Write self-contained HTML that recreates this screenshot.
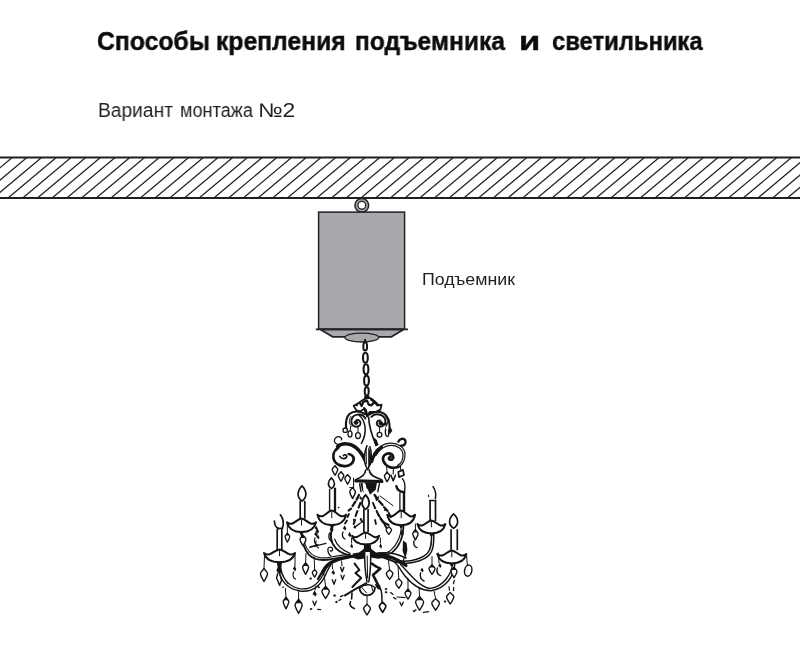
<!DOCTYPE html>
<html lang="ru">
<head>
<meta charset="utf-8">
<title>Способы крепления подъемника и светильника</title>
<style>
html,body{margin:0;padding:0;background:#fff;}
body{width:800px;height:666px;position:relative;overflow:hidden;font-family:"Liberation Sans",sans-serif;color:#1a1a1a;}
.t{position:absolute;white-space:nowrap;transform-origin:0 0;line-height:30px;height:30px;will-change:transform;}
.h{font-size:26px;font-weight:bold;color:#0b0b0b;top:26.2px;-webkit-text-stroke:0.45px #0b0b0b;}
.s{font-size:19.6px;color:#1f1f1f;top:95.3px;}
#lab{left:422.1px;top:265px;font-size:17.1px;color:#1f1f1f;transform:scaleX(1.04);}
svg{position:absolute;left:0;top:0;}
</style>
</head>
<body>
<svg width="800" height="666" viewBox="0 0 800 666">
<defs>
<clipPath id="ceil"><rect x="0" y="158" width="800" height="40"/></clipPath>
</defs>
<!-- ceiling -->
<g clip-path="url(#ceil)" stroke="#262626" stroke-width="1.3" fill="none">
<path d="M-16.62 157L-66.70 199M-1.91 157L-51.99 199M12.79 157L-37.29 199M27.49 157L-22.59 199M42.20 157L-7.88 199M56.90 157L6.82 199M71.61 157L21.53 199M86.31 157L36.23 199M101.01 157L50.93 199M115.72 157L65.64 199M130.42 157L80.34 199M145.13 157L95.05 199M159.83 157L109.75 199M174.53 157L124.45 199M189.24 157L139.16 199M203.94 157L153.86 199M218.65 157L168.57 199M233.35 157L183.27 199M248.05 157L197.97 199M262.76 157L212.68 199M277.46 157L227.38 199M292.17 157L242.09 199M306.87 157L256.79 199M321.57 157L271.49 199M336.28 157L286.20 199M350.98 157L300.90 199M365.69 157L315.61 199M380.39 157L330.31 199M395.09 157L345.01 199M409.80 157L359.72 199M424.50 157L374.42 199M439.21 157L389.13 199M453.91 157L403.83 199M468.61 157L418.53 199M483.32 157L433.24 199M498.02 157L447.94 199M512.73 157L462.65 199M527.43 157L477.35 199M542.13 157L492.05 199M556.84 157L506.76 199M571.54 157L521.46 199M586.25 157L536.17 199M600.95 157L550.87 199M615.65 157L565.57 199M630.36 157L580.28 199M645.06 157L594.98 199M659.77 157L609.69 199M674.47 157L624.39 199M689.17 157L639.09 199M703.88 157L653.80 199M718.58 157L668.50 199M733.29 157L683.21 199M747.99 157L697.91 199M762.69 157L712.61 199M777.40 157L727.32 199M792.10 157L742.02 199M806.81 157L756.73 199M821.51 157L771.43 199M836.21 157L786.13 199M850.92 157L800.84 199"/>
</g>
<line x1="0" y1="157.6" x2="800" y2="157.6" stroke="#1f1f1f" stroke-width="2"/>
<line x1="0" y1="197.9" x2="800" y2="197.9" stroke="#1f1f1f" stroke-width="2"/>
<!-- eyelet -->
<circle cx="361.8" cy="205.3" r="6.9" fill="#a3a5a8" stroke="#222" stroke-width="1.5"/>
<circle cx="361.8" cy="205.3" r="3.9" fill="#fff" stroke="#222" stroke-width="1.3"/>
<!-- hoist -->
<rect x="318.6" y="212.1" width="86" height="117" fill="#a7a9ac" stroke="#222" stroke-width="1.5"/>
<path d="M320.5 329.5 L332.5 336.8 L391.5 336.8 L403.5 329.5 Z" fill="#a7a9ac" stroke="#222" stroke-width="1.7" stroke-linejoin="round"/>
<line x1="315.8" y1="329.3" x2="408" y2="329.3" stroke="#222" stroke-width="1.8"/>
<ellipse cx="361.8" cy="337.6" rx="17" ry="4.4" fill="#a7a9ac" stroke="#222" stroke-width="1.3"/>
<!-- chain -->
<g stroke-linejoin="round" stroke-linecap="round"><path d="M365.2 339.6L364.6 343" fill="none" stroke="#141414" stroke-width="1.8" />
<ellipse cx="365.2" cy="346.4" rx="1.9" ry="4.2" fill="#fff" stroke="#141414" stroke-width="2.0"/>
<ellipse cx="365.4" cy="357.8" rx="2.4" ry="5.0" fill="#fff" stroke="#141414" stroke-width="2.1"/>
<ellipse cx="366.0" cy="369.2" rx="2.4" ry="5.0" fill="#fff" stroke="#141414" stroke-width="2.1"/>
<ellipse cx="366.5" cy="380.6" rx="2.4" ry="5.0" fill="#fff" stroke="#141414" stroke-width="2.1"/>
<ellipse cx="366.7" cy="391.2" rx="2.0" ry="4.2" fill="#fff" stroke="#141414" stroke-width="2.0"/>
<path d="M364.4 395.5L369.3 395.5L369.8 398.6L364 398.6Z" fill="#141414"/></g>
<!-- chandelier -->
<g stroke-linejoin="round" stroke-linecap="round"><path d="M353.6 405.8L358.6 403L363.6 399.6L367 398.2L370.4 398.2L374.6 401.4L379 405.4L381.6 404.6L380.4 409.6L376.6 411.6L370 412L367 416.4L364.2 408.6L360.4 411.4L356.4 410.4Z" fill="#fff" stroke="#141414" stroke-width="1.8" />
<path d="M369.6 397.6L372 398L376 401.6L379.4 405.8L377 406.4L373.4 402.6L370 400Z" fill="#141414"/>
<path d="M359.8 403L361.6 406L363.4 401.8L367 400.6L368.8 404.8L371.2 405.4L374.2 402.4" fill="none" stroke="#141414" stroke-width="2.2" />
<path d="M364 407.8L365.8 409.6L367 413.8" fill="none" stroke="#141414" stroke-width="1.8" />
<path d="M354.6 405.6L358.6 403.4L357.4 406.6Z" fill="#141414"/>
<path d="M367 416.4L369.6 412" fill="none" stroke="#141414" stroke-width="1.6" />
<path d="M365 414C360 410.8 353.4 410.6 349.4 414C346.4 417 345.6 422 346 427.6" fill="none" stroke="#141414" stroke-width="2.1" />
<path d="M351 416.4C348.6 419.6 348.8 424 351.6 426.4" fill="none" stroke="#141414" stroke-width="1.0" />
<path d="M365.4 418.4C362 412.6 352.4 413.4 351.4 420.6C351 426.2 356.4 428.4 359.8 425.4C361.8 422.8 359.8 419.4 356.6 420" fill="none" stroke="#141414" stroke-width="1.9" />
<circle cx="356.0" cy="422.6" r="2.1" fill="#141414" stroke="#141414" stroke-width="0.5"/>
<path d="M359 415C366 421 367.4 433 361.4 443.4" fill="none" stroke="#141414" stroke-width="1.5" />
<circle cx="345.2" cy="430.2" r="2.2" fill="#fff" stroke="#141414" stroke-width="1.3"/>
<path d="M350.6 426.5L350.2 430.5" fill="none" stroke="#141414" stroke-width="1.0" />
<ellipse cx="350" cy="434" rx="2.0" ry="3.1" fill="#fff" stroke="#141414" stroke-width="1.3"/>
<path d="M358 427L358 432.4" fill="none" stroke="#141414" stroke-width="1.0" />
<ellipse cx="358" cy="435.6" rx="2.4" ry="3.0" fill="#fff" stroke="#141414" stroke-width="1.3"/>
<path d="M369.6 414.6C373 411.4 379.6 410.8 384 413.6C388.6 416.6 389.8 423 389.6 428.6" fill="none" stroke="#141414" stroke-width="2.1" />
<path d="M385.6 416.4C388 419.6 388 424 385.6 427" fill="none" stroke="#141414" stroke-width="1.1" />
<path d="M371.4 416.8C375 412.8 383 413.8 385 419C386.8 424.6 381 428.8 377.6 425.4C375.6 423 377.4 419.8 380.4 420.6" fill="none" stroke="#141414" stroke-width="1.9" />
<path d="M380 423C383 424.8 385.4 424.8 386.8 423.6" fill="none" stroke="#141414" stroke-width="2.0" />
<circle cx="380.8" cy="423.2" r="2.0" fill="#141414" stroke="#141414" stroke-width="0.5"/>
<path d="M379.6 427.4L379.6 432" fill="none" stroke="#141414" stroke-width="1.0" />
<circle cx="379.5" cy="434.8" r="2.4" fill="#fff" stroke="#141414" stroke-width="1.3"/>
<path d="M385.6 429C385 433 385.6 436.4 387.2 436.6C388.8 436.4 389 433.6 388.6 431.6" fill="none" stroke="#141414" stroke-width="1.4" />
<path d="M390 426.6L392.4 430.4L390 434L387.8 430.4Z" fill="#141414"/>
<path d="M368.6 417C369 425 372 436 376 445" fill="none" stroke="#141414" stroke-width="1.6" />
<path d="M373.8 437.6L376.8 440L378.6 445L375.4 446.4L374.2 442Z" fill="#141414"/>
<path d="M341 437.8C338.6 435.6 335 437 334.4 440.2C334 443 336.6 444.8 340 444.8" fill="none" stroke="#141414" stroke-width="1.3" />
<path d="M341 437.8C342 438.4 342 439.6 341.2 440" fill="none" stroke="#141414" stroke-width="1.1" />
<path d="M337.6 446.6C342 443 350 442.6 356 447.6C360.6 451.6 363.6 456.6 365.6 461.4" fill="none" stroke="#141414" stroke-width="3.5" />
<path d="M345 446.6C351 447 357 451.6 361 458.4" fill="none" stroke="#fff" stroke-width="1.0" />
<path d="M338.4 447.6C332.6 451.6 331.6 459 336.6 463.4C341.6 467.6 349.6 467 352.8 462C355 458.4 353 454.6 348.8 454" fill="none" stroke="#141414" stroke-width="2.7" />
<path d="M336 452C334.4 456 335.4 460.6 338.6 463" fill="none" stroke="#fff" stroke-width="1.0" />
<path d="M339.8 456.4C341.6 459.4 346 459.4 346.8 456.6C347 454.6 344.6 454.2 343.4 455.6" fill="none" stroke="#141414" stroke-width="1.7" />
<path d="M335 465.75C336.12 467.175 337.8 468.41 337.8 469.36C337.8 471.26 335.84 473.825 335 475.25C334.16 473.825 332.2 471.26 332.2 469.36C332.2 468.41 333.88 467.175 335 465.75Z" fill="#fff" stroke="#141414" stroke-width="1.4" />
<path d="M341 471.75C342.12 473.175 343.8 474.41 343.8 475.36C343.8 477.26 341.84 479.825 341 481.25C340.16 479.825 338.2 477.26 338.2 475.36C338.2 474.41 339.88 473.175 341 471.75Z" fill="#fff" stroke="#141414" stroke-width="1.4" />
<path d="M347.6 474.65C348.72 476.075 350.40000000000003 477.31 350.40000000000003 478.26C350.40000000000003 480.15999999999997 348.44 482.72499999999997 347.6 484.15C346.76000000000005 482.72499999999997 344.8 480.15999999999997 344.8 478.26C344.8 477.31 346.48 476.075 347.6 474.65Z" fill="#fff" stroke="#141414" stroke-width="1.4" />
<path d="M353.6 478L353.6 487.4" fill="none" stroke="#141414" stroke-width="1.1" />
<path d="M352.6 487.5C353.72 489.15 355.40000000000003 490.58 355.40000000000003 491.68C355.40000000000003 493.88 353.44 496.85 352.6 498.5C351.76000000000005 496.85 349.8 493.88 349.8 491.68C349.8 490.58 351.48 489.15 352.6 487.5Z" fill="#fff" stroke="#141414" stroke-width="1.5" />
<path d="M398.4 441.6C399.4 438.6 403.6 437.6 405.2 440.2C406.6 443 404.6 445.6 401.2 445.8" fill="none" stroke="#141414" stroke-width="2.4" />
<path d="M371.6 461.6C373 456.4 376 451 381.4 447.2" fill="none" stroke="#141414" stroke-width="3.2" />
<path d="M373.8 453.6C378 447 384 443.4 390.6 443.2C398 443 404.6 447 405 454C405.2 460 402.6 464.6 398.6 467" fill="none" stroke="#141414" stroke-width="1.2" />
<path d="M376 455.4C379.6 449.6 385 445.6 390.6 445.4C397 445.2 402.6 448.8 403 454.6C403.2 459.6 401 463.6 397.6 465.6" fill="none" stroke="#141414" stroke-width="1.2" />
<path d="M398.6 466.8C392 469.4 385.6 466.6 383.4 461C381.8 456.6 385 453.2 389.2 453.4C392.8 453.6 394.2 457 392.6 459C391.2 460.4 389.2 459.8 388.8 458.4" fill="none" stroke="#141414" stroke-width="2.6" />
<circle cx="390.2" cy="456.8" r="1.5" fill="#141414" stroke="#141414" stroke-width="0.4"/>
<path d="M386.6 466.8L387.1 472.25" fill="none" stroke="#141414" stroke-width="1.0" />
<path d="M387.1 472.25C388.18 473.675 389.8 474.91 389.8 475.86C389.8 477.76 387.91 480.325 387.1 481.75C386.29 480.325 384.40000000000003 477.76 384.40000000000003 475.86C384.40000000000003 474.91 386.02000000000004 473.675 387.1 472.25Z" fill="#fff" stroke="#141414" stroke-width="1.4" />
<path d="M393.4 468L393.2 474" fill="none" stroke="#141414" stroke-width="1.1" />
<path d="M390.9 475.2L393.2 480.8L395.5 475.2" fill="none" stroke="#141414" stroke-width="1.6" />
<path d="M400.4 466L400.8 470" fill="none" stroke="#141414" stroke-width="1.1" />
<path d="M401 469.4L404.4 473.4L401 477.6L397.8 473.4Z" fill="#fff" stroke="#141414" stroke-width="1.7" transform="rotate(28 401 473.5)"/>
<path d="M367 445.6C364 452 363.6 462 366.2 466.6L367.6 470L369 466.6C372.4 462 371.8 452 369.8 446.6" fill="#fff" stroke="#141414" stroke-width="1.5" />
<path d="M368.2 447C371.6 452 372 461 369.2 466.4L368.2 468.6Z" fill="#141414"/>
<path d="M366.2 449L366.4 464" fill="none" stroke="#141414" stroke-width="1.0" />
<path d="M366 470L366 475M369.2 470L369.2 475" fill="none" stroke="#141414" stroke-width="1.3" />
<path d="M365.6 470.4C365 476 360 478 356 479.4L355.6 481.4L382 482L381.6 479.6C377 478 369.6 476 369.4 470.4" fill="#fff" stroke="#141414" stroke-width="1.6" />
<path d="M355.8 480.8L382 481.6" fill="none" stroke="#141414" stroke-width="3.0" />
<path d="M364.2 482.4L377 482.4L375.6 490L373 492L370 494.8L367.8 489.6L366.4 488L365.8 484.6Z" fill="#141414"/>
<path d="M360.4 483L362.6 483L363.6 493L362 490Z" fill="#141414"/>
<path d="M359.6 484L361 491.6M379.4 483.6L377.8 491.6" fill="none" stroke="#141414" stroke-width="1.4" />
<path d="M274.4 521C274.6 525 276 527.6 278.4 528.4" fill="none" stroke="#141414" stroke-width="1.7" />
<path d="M280.4 514.8C283.4 519 284 524 282.4 528" fill="none" stroke="#141414" stroke-width="1.7" />
<path d="M277.6 528.6L282.6 528.2" fill="none" stroke="#141414" stroke-width="1.6" />
<path d="M277.2 529.5L277.2 549.5M281.8 529.5L281.8 549.5" fill="none" stroke="#141414" stroke-width="1.7" />
<path d="M302.0 485.9C307.06 490.84 307.29 497.68 302 501.1C296.71 497.68 296.94 490.84 302.0 485.9Z" fill="#fff" stroke="#141414" stroke-width="1.7" />
<path d="M300.2 501.5L300.2 518M304.8 501.5L304.8 518" fill="none" stroke="#141414" stroke-width="1.7" />
<path d="M331.4 477.8C335.35999999999996 481.31 335.53999999999996 486.17 331.4 488.59999999999997C327.26 486.17 327.44 481.31 331.4 477.8Z" fill="#fff" stroke="#141414" stroke-width="1.6" />
<path d="M329.6 489.5L329.6 511" fill="none" stroke="#141414" stroke-width="1.4" />
<path d="M335 488.6L335 511" fill="none" stroke="#141414" stroke-width="2.3" />
<path d="M365.6 494.8C370.22 499.48 370.43 505.96 365.6 509.2C360.77000000000004 505.96 360.98 499.48 365.6 494.8Z" fill="#fff" stroke="#141414" stroke-width="1.8" />
<path d="M363.9 509.5L363.9 531.5M368.1 509.5L368.1 531.5" fill="none" stroke="#141414" stroke-width="1.7" />
<path d="M399.9 493L399.9 510.5" fill="none" stroke="#141414" stroke-width="1.3" />
<path d="M404 492L404 510.5" fill="none" stroke="#141414" stroke-width="2.4" />
<path d="M402.4 478.8C404.6 481 405.4 486 404.6 491.4" fill="none" stroke="#141414" stroke-width="1.4" />
<path d="M396.4 486.2C397 489.6 400 491.8 404.2 492.2" fill="none" stroke="#141414" stroke-width="2.4" />
<path d="M433 486.6C435.4 490 436.4 494 435.4 498.4" fill="none" stroke="#141414" stroke-width="1.5" />
<path d="M428.4 495L428.8 497" fill="none" stroke="#141414" stroke-width="1.0" />
<path d="M430.1 500.5L430.1 520.5M435.5 500.5L435.5 520.5" fill="none" stroke="#141414" stroke-width="1.7" />
<path d="M430 500.5L435.6 500.5" fill="none" stroke="#141414" stroke-width="1.6" />
<path d="M453.6 513.8C458.88 518.48 459.12 524.96 453.6 528.2C448.08000000000004 524.96 448.32000000000005 518.48 453.6 513.8Z" fill="#fff" stroke="#141414" stroke-width="1.7" />
<path d="M451.09999999999997 529.8L451.09999999999997 549.5M457.3 529.8L457.3 549.5" fill="none" stroke="#141414" stroke-width="1.7" />
<path d="M278.4 564C278 576 284 588.6 300 591C312 592.4 321.6 585.4 327 571.4L331.6 563.4" fill="none" stroke="#141414" stroke-width="1.4" />
<path d="M280.6 564C280.6 574 286 586.4 300 588.8C311 590 319.6 583.4 325 570.4L329.4 562.6" fill="none" stroke="#141414" stroke-width="1.3" />
<path d="M301.4 533C302 543 304.6 550 309 554.8C314 559.8 322 560.8 331 559.2C338 558 345 556.6 352 556.2" fill="none" stroke="#141414" stroke-width="1.9" />
<path d="M304 540C305 546 308 551 312 554.4C317 558 324 558.6 331 557C338 555.6 344 554.8 350 554.4" fill="none" stroke="#141414" stroke-width="1.1" />
<path d="M333 525C330 533 330.4 539 332.6 543.6C336 550 343 554.4 352 556" fill="none" stroke="#141414" stroke-width="2.0" />
<path d="M334.6 539C336.6 545 342 550 350 553.4" fill="none" stroke="#141414" stroke-width="1.2" />
<path d="M328 548.6C327.4 551.4 329 555 331 556M328 548.6C329 546.4 332.4 546.6 332.6 549.4C332.6 551 331 551.6 330.4 550.6" fill="none" stroke="#141414" stroke-width="1.3" />
<path d="M309.6 547.4L326 543.4" fill="none" stroke="#141414" stroke-width="1.2" />
<path d="M322.4 572.4C325 566.4 329 562.8 336 560.4" fill="none" stroke="#141414" stroke-width="3.4" />
<path d="M336 560.4C342 558.4 350 556.6 359 555.6" fill="none" stroke="#141414" stroke-width="2.6" />
<path d="M318 579C320 575 322 572.4 324 570" fill="none" stroke="#141414" stroke-width="2.2" />
<path d="M403.6 525C403.4 536 400 546 392 552.6C388 555 384 556 380 556.2" fill="none" stroke="#141414" stroke-width="1.6" />
<path d="M401.6 525C401.2 535 398 544 390.6 550.4C387 553 383 554 379 554.2" fill="none" stroke="#141414" stroke-width="1.2" />
<path d="M433.8 534C433.8 544 433.4 550 429.6 554.6C425 560 414 563.4 404 563.4C396 563 388 559.6 380 556.4" fill="none" stroke="#141414" stroke-width="1.5" />
<path d="M431.6 534C431.6 544 431 549 427.6 553C423 558 413 561.2 404 561.2C397 560.8 390 558 382 555" fill="none" stroke="#141414" stroke-width="1.4" />
<path d="M454.8 564C454 576 446 588.4 431 590.8C421 590.8 411.6 584 405 576C402 572 400 569 398.4 566.4C394 560 386 557 378 556.6" fill="none" stroke="#141414" stroke-width="1.4" />
<path d="M452.6 564C451.4 574 444 586 431 588.4C423 588.4 415.6 581 408.6 573C405.6 570 403 567 400.6 564.6" fill="none" stroke="#141414" stroke-width="1.4" />
<path d="M374 555C384 554.4 396 557.6 406 565.6" fill="none" stroke="#141414" stroke-width="3.2" />
<path d="M378 553C388 552 398 554 406 558" fill="none" stroke="#141414" stroke-width="1.6" />
<path d="M264.0 552.9839999999999C270.2 557.848 274.23 549.656 279.5 549.4C284.77 549.656 288.8 557.848 295.0 552.9839999999999C293.45 558.616 287.87 562.1999999999999 279.5 562.1999999999999C271.13 562.1999999999999 265.55 558.616 264.0 552.9839999999999Z" fill="#fff" stroke="#141414" stroke-width="2.0" />
<path d="M279.5 550.68L279.5 555.8" fill="none" stroke="#141414" stroke-width="1.0" />
<path d="M277.1 561.56L281.9 561.56L280.5 564.9999999999999L278.5 564.9999999999999Z" fill="#141414"/>
<path d="M287.0 522.208C292.8 527.376 296.57 518.672 301.5 518.4C306.43 518.672 310.2 527.376 316.0 522.208C314.55 528.192 309.33 532.0 301.5 532.0C293.67 532.0 288.45 528.192 287.0 522.208Z" fill="#fff" stroke="#141414" stroke-width="2.0" />
<path d="M301.5 519.76L301.5 525.1999999999999" fill="none" stroke="#141414" stroke-width="1.0" />
<path d="M299.1 531.3199999999999L303.9 531.3199999999999L302.5 534.8L300.5 534.8Z" fill="#141414"/>
<path d="M317.40000000000003 514.6320000000001C323.16 520.104 326.904 510.88800000000003 331.8 510.6C336.696 510.88800000000003 340.44 520.104 346.2 514.6320000000001C344.76 520.9680000000001 339.576 525.0 331.8 525.0C324.024 525.0 318.84000000000003 520.9680000000001 317.40000000000003 514.6320000000001Z" fill="#fff" stroke="#141414" stroke-width="2.0" />
<path d="M331.8 512.0400000000001L331.8 517.8000000000001" fill="none" stroke="#141414" stroke-width="1.0" />
<path d="M329.40000000000003 524.28L334.2 524.28L332.8 527.8L330.8 527.8Z" fill="#141414"/>
<path d="M352.1 535.76C357.5 540.3199999999999 361.01000000000005 532.64 365.6 532.4C370.19 532.64 373.70000000000005 540.3199999999999 379.1 535.76C377.75 541.04 372.89000000000004 544.4 365.6 544.4C358.31 544.4 353.45000000000005 541.04 352.1 535.76Z" fill="#fff" stroke="#141414" stroke-width="2.0" />
<path d="M365.6 533.6L365.6 538.4" fill="none" stroke="#141414" stroke-width="1.0" />
<path d="M363.20000000000005 543.8L368.0 543.8L366.6 547.1999999999999L364.6 547.1999999999999Z" fill="#141414"/>
<path d="M387.3 514.688C392.86 520.236 396.474 510.892 401.2 510.6C405.926 510.892 409.53999999999996 520.236 415.09999999999997 514.688C413.71 521.112 408.706 525.2 401.2 525.2C393.69399999999996 525.2 388.69 521.112 387.3 514.688Z" fill="#fff" stroke="#141414" stroke-width="2.0" />
<path d="M401.2 512.0600000000001L401.2 517.9" fill="none" stroke="#141414" stroke-width="1.0" />
<path d="M398.8 524.47L403.59999999999997 524.47L402.2 528.0L400.2 528.0Z" fill="#141414"/>
<path d="M417.4 524.04C423.0 528.98 426.64 520.66 431.4 520.4C436.15999999999997 520.66 439.79999999999995 528.98 445.4 524.04C444.0 529.76 438.96 533.4 431.4 533.4C423.84 533.4 418.79999999999995 529.76 417.4 524.04Z" fill="#fff" stroke="#141414" stroke-width="2.0" />
<path d="M431.4 521.6999999999999L431.4 526.9" fill="none" stroke="#141414" stroke-width="1.0" />
<path d="M429.0 532.75L433.79999999999995 532.75L432.4 536.1999999999999L430.4 536.1999999999999Z" fill="#141414"/>
<path d="M437.3 554.04C443.1 558.98 446.87 550.66 451.8 550.4C456.73 550.66 460.5 558.98 466.3 554.04C464.85 559.76 459.63 563.4 451.8 563.4C443.97 563.4 438.75 559.76 437.3 554.04Z" fill="#fff" stroke="#141414" stroke-width="2.0" />
<path d="M451.8 551.6999999999999L451.8 556.9" fill="none" stroke="#141414" stroke-width="1.0" />
<path d="M449.40000000000003 562.75L454.2 562.75L452.8 566.1999999999999L450.8 566.1999999999999Z" fill="#141414"/>
<path d="M352.6 553.4L359 552.6L364.4 548.4L364.6 558.6L358 559.4L353 557.8Z" fill="#141414"/>
<path d="M370.6 548.4L376 552.6L386 553.2L388.6 557.2L378 558.8L370.8 557.6Z" fill="#141414"/>
<path d="M364 545L370.8 545L371.4 552L363.6 552Z" fill="#141414"/>
<path d="M364.8 548C364.2 560 365.2 572 367 582M370.4 548C371.2 560 370.4 572 368.8 582" fill="#fff" stroke="#141414" stroke-width="1.5" />
<path d="M367.2 556L367.6 578" fill="none" stroke="#141414" stroke-width="1.0" />
<path d="M354.6 563.6L359.4 570L355.4 573L361.2 578L356.2 583L352.4 587" fill="none" stroke="#141414" stroke-width="2.0" />
<path d="M372 563.6C375 566.4 378 567.4 380.4 568.6L373 575L375.8 580.4L378.6 586" fill="none" stroke="#141414" stroke-width="2.6" />
<path d="M359.4 587.6A7.8 7.8 0 0 0 375 587.6" fill="#fff" stroke="#141414" stroke-width="1.8" />
<path d="M359.6 588C364 584 371 583.6 374.8 587.4" fill="none" stroke="#141414" stroke-width="1.4" />
<path d="M361.4 587L366.6 593M371.6 586.4L372.6 590.6" fill="none" stroke="#141414" stroke-width="1.0" />
<path d="M345 595.4C352 591 359 587 366.4 583.2" fill="none" stroke="#141414" stroke-width="2.0" />
<path d="M374.6 584L380 585L381.4 590.4L377 588.6Z" fill="#141414"/>
<path d="M379.4 587C381 589 381.8 592 381.8 595L382 601.6" fill="none" stroke="#141414" stroke-width="1.5" />
<path d="M367 595.4L367 604.2" fill="none" stroke="#141414" stroke-width="1.0" />
<path d="M367 604.2C368.36 605.82 370.4 607.2239999999999 370.4 608.304C370.4 610.4639999999999 368.02 613.38 367 615.0C365.98 613.38 363.6 610.4639999999999 363.6 608.304C363.6 607.2239999999999 365.64 605.82 367 604.2Z" fill="#fff" stroke="#141414" stroke-width="1.4" />
<path d="M382.6 602.1C383.92 603.63 385.90000000000003 604.956 385.90000000000003 605.976C385.90000000000003 608.016 383.59000000000003 610.7700000000001 382.6 612.3000000000001C381.61 610.7700000000001 379.3 608.016 379.3 605.976C379.3 604.956 381.28000000000003 603.63 382.6 602.1Z" fill="#fff" stroke="#141414" stroke-width="1.7" />
<path d="M352 593L351.6 599M350.6 601.6C349 604 350.6 607.6 354.4 608.6" fill="none" stroke="#141414" stroke-width="1.6" />
<path d="M264.6 553.5L264 568.5" fill="none" stroke="#141414" stroke-width="1.0" />
<path d="M264 568.5C265.4 570.45 267.5 572.1400000000001 267.5 573.44C267.5 576.0400000000001 265.05 579.55 264 581.5C262.95 579.55 260.5 576.0400000000001 260.5 573.44C260.5 572.1400000000001 262.6 570.45 264 568.5Z" fill="#fff" stroke="#141414" stroke-width="1.4" />
<path d="M295 553.6L295 566" fill="none" stroke="#141414" stroke-width="1.0" />
<path d="M294.6 565.5L296.3 569.1L295.11 571.5L293.92 569.7L292.90000000000003 569.1Z" fill="#141414"/>
<path d="M293.6 572C292.4 575 293.4 578 295.4 579" fill="none" stroke="#141414" stroke-width="1.3" />
<path d="M287.2 523L287.4 533.1" fill="none" stroke="#141414" stroke-width="1.0" />
<path d="M287.4 533.1C288.32 534.45 289.7 535.62 289.7 536.52C289.7 538.3199999999999 288.09 540.75 287.4 542.1C286.71 540.75 285.09999999999997 538.3199999999999 285.09999999999997 536.52C285.09999999999997 535.62 286.47999999999996 534.45 287.4 533.1Z" fill="#fff" stroke="#141414" stroke-width="1.3" />
<path d="M287.4 532.3000000000001L289.056 535.53L285.74399999999997 535.53Z" fill="#141414"/>
<path d="M303 535.15C304.2 536.725 306.0 538.09 306.0 539.14C306.0 541.24 303.9 544.0749999999999 303 545.65C302.1 544.0749999999999 300.0 541.24 300.0 539.14C300.0 538.09 301.8 536.725 303 535.15Z" fill="#fff" stroke="#141414" stroke-width="1.4" />
<path d="M303 534.35L305.16 537.985L300.84 537.985Z" fill="#141414"/>
<path d="M316.2 525.5L317.8 528.5L316.68 530.5L315.56 529.0L314.59999999999997 528.5Z" fill="#141414"/>
<path d="M316 531.0L317.8 534.6L316.54 537.0L315.28 535.2L314.2 534.6Z" fill="#141414"/>
<path d="M315 538C313.6 541 315 544.6 317.6 545.4" fill="none" stroke="#141414" stroke-width="1.3" />
<path d="M311 546.6L318 545" fill="none" stroke="#141414" stroke-width="1.3" />
<path d="M306 553.5L305.6 562.85" fill="none" stroke="#141414" stroke-width="1.0" />
<path d="M305.6 562.85C306.8 564.575 308.6 566.07 308.6 567.22C308.6 569.52 306.5 572.625 305.6 574.35C304.70000000000005 572.625 302.6 569.52 302.6 567.22C302.6 566.07 304.40000000000003 564.575 305.6 562.85Z" fill="#fff" stroke="#141414" stroke-width="1.4" />
<path d="M305.6 562.0500000000001L307.76000000000005 565.955L303.44 565.955Z" fill="#141414"/>
<path d="M314.2 557L314.6 569.6999999999999" fill="none" stroke="#141414" stroke-width="1.0" />
<path d="M314.6 569.6999999999999C315.52000000000004 570.81 316.90000000000003 571.7719999999999 316.90000000000003 572.512C316.90000000000003 573.992 315.29 575.99 314.6 577.1C313.91 575.99 312.3 573.992 312.3 572.512C312.3 571.7719999999999 313.68 570.81 314.6 569.6999999999999Z" fill="#fff" stroke="#141414" stroke-width="1.3" />
<path d="M285.4 588.5L286 597.25" fill="none" stroke="#141414" stroke-width="1.0" />
<path d="M286 597.25C287.12 598.975 288.8 600.47 288.8 601.62C288.8 603.92 286.84 607.025 286 608.75C285.16 607.025 283.2 603.92 283.2 601.62C283.2 600.47 284.88 598.975 286 597.25Z" fill="#fff" stroke="#141414" stroke-width="1.4" />
<path d="M286 596.45L288.016 600.355L283.984 600.355Z" fill="#141414"/>
<path d="M298.6 590.5L298.6 599.4" fill="none" stroke="#141414" stroke-width="1.0" />
<path d="M298.6 599.4C300.0 601.5 302.1 603.32 302.1 604.72C302.1 607.52 299.65000000000003 611.3 298.6 613.4C297.55 611.3 295.1 607.52 295.1 604.72C295.1 603.32 297.20000000000005 601.5 298.6 599.4Z" fill="#fff" stroke="#141414" stroke-width="1.4" />
<path d="M298.6 598.6L301.12 603.18L296.08000000000004 603.18Z" fill="#141414"/>
<path d="M316 586L315 590" fill="none" stroke="#141414" stroke-width="1.0" />
<path d="M314.6 590.6L316.8 594.2L315.26000000000005 596.6L313.72 594.8000000000001L312.40000000000003 594.2Z" fill="#141414"/>
<path d="M312.90000000000003 601.1999999999999L314.6 605.6L316.3 601.1999999999999" fill="none" stroke="#141414" stroke-width="1.3" />
<path d="M324 574L325.6 586.4" fill="none" stroke="#141414" stroke-width="1.0" />
<path d="M325.6 586.4C327.08000000000004 588.1999999999999 329.3 589.7599999999999 329.3 590.9599999999999C329.3 593.3599999999999 326.71000000000004 596.6 325.6 598.4C324.49 596.6 321.90000000000003 593.3599999999999 321.90000000000003 590.9599999999999C321.90000000000003 589.7599999999999 324.12 588.1999999999999 325.6 586.4Z" fill="#fff" stroke="#141414" stroke-width="1.4" />
<path d="M325.6 585.6L328.264 589.64L322.93600000000004 589.64Z" fill="#141414"/>
<circle cx="310.6" cy="578.6" r="1.0" fill="#141414" stroke="#141414" stroke-width="0.3"/>
<circle cx="311" cy="609" r="1.0" fill="#141414" stroke="#141414" stroke-width="0.3"/>
<circle cx="318.6" cy="587.2" r="0.9" fill="#141414" stroke="#141414" stroke-width="0.3"/>
<path d="M317.6 609.4L320.6 609.6" fill="none" stroke="#141414" stroke-width="1.2" />
<circle cx="283" cy="587.2" r="0.7" fill="#141414" stroke="#141414" stroke-width="0.3"/>
<path d="M276.8 563L282 563L280.8 568L282 572L280.4 573.4L278 573L276.4 570.6L277.8 567Z" fill="#141414"/>
<path d="M277.6 573.6L276.6 578L279.6 585.4L281.6 580L280.2 575" fill="none" stroke="#141414" stroke-width="1.4" />
<path d="M281.4 573C284 578 286 582 288 584" fill="none" stroke="#141414" stroke-width="1.0" />
<path d="M332 563L332.6 569" fill="none" stroke="#141414" stroke-width="1.0" />
<path d="M333.2 569.6999999999999L335.0 572.9399999999999L333.74 575.1L332.47999999999996 573.48L331.4 572.9399999999999Z" fill="#141414"/>
<path d="M341.6 561L342 566" fill="none" stroke="#141414" stroke-width="1.0" />
<path d="M340.59999999999997 567.4L342.2 571.8000000000001L343.8 567.4" fill="none" stroke="#141414" stroke-width="1.4" />
<path d="M332.3 579.7L334 584.3L335.7 579.7" fill="none" stroke="#141414" stroke-width="1.3" />
<path d="M341.0 575.1999999999999L342.6 579.6L344.20000000000005 575.1999999999999" fill="none" stroke="#141414" stroke-width="1.3" />
<circle cx="334.6" cy="595.6" r="1.1" fill="#141414" stroke="#141414" stroke-width="0.3"/>
<circle cx="336.4" cy="602" r="1.0" fill="#141414" stroke="#141414" stroke-width="0.3"/>
<path d="M340.6 596.6L343 595.4" fill="none" stroke="#141414" stroke-width="1.4" />
<path d="M339 600.4L341 599.4" fill="none" stroke="#141414" stroke-width="1.2" />
<path d="M351.6 538L351.6 543" fill="none" stroke="#141414" stroke-width="1.0" />
<path d="M351.6 543.5L353.1 546.5L352.05 548.5L351.0 547.0L350.1 546.5Z" fill="#141414"/>
<path d="M380.4 538L380.4 543" fill="none" stroke="#141414" stroke-width="1.0" />
<path d="M380.6 543.3L382.1 546.54L381.05 548.7L380.0 547.08L379.1 546.54Z" fill="#141414"/>
<path d="M331.6 526.0L333.6 529.6L332.20000000000005 532.0L330.8 530.2L329.6 529.6Z" fill="#141414"/>
<path d="M329.6 533C328 536 329 540 331.4 541.4" fill="none" stroke="#141414" stroke-width="1.4" />
<path d="M317.4 528.3L319.09999999999997 531.54L317.90999999999997 533.7L316.71999999999997 532.08L315.7 531.54Z" fill="#141414"/>
<path d="M318 534.5L319.5 537.5L318.45 539.5L317.4 538.0L316.5 537.5Z" fill="#141414"/>
<path d="M316 541C315 544 316.4 547 318.6 548" fill="none" stroke="#141414" stroke-width="1.2" />
<path d="M344.6 525.5L346.40000000000003 528.5L345.14000000000004 530.5L343.88 529.0L342.8 528.5Z" fill="#141414"/>
<path d="M343 532C341.6 535 342.6 538 345 539" fill="none" stroke="#141414" stroke-width="1.3" />
<path d="M349.6 531.8000000000001L351.3 535.16L350.11 537.4L348.92 535.72L347.90000000000003 535.16Z" fill="#141414"/>
<path d="M466.4 553.6L467.4 565" fill="none" stroke="#141414" stroke-width="1.0" />
<ellipse cx="468.2" cy="570.6" rx="3.6" ry="5.6" fill="#fff" stroke="#141414" stroke-width="1.5" transform="rotate(12 468.2 570.6)"/>
<path d="M415.4 524L415.4 529.5999999999999" fill="none" stroke="#141414" stroke-width="1.0" />
<path d="M415.4 529.5999999999999C416.47999999999996 531.1599999999999 418.09999999999997 532.512 418.09999999999997 533.5519999999999C418.09999999999997 535.632 416.21 538.44 415.4 540.0C414.59 538.44 412.7 535.632 412.7 533.5519999999999C412.7 532.512 414.32 531.1599999999999 415.4 529.5999999999999Z" fill="#fff" stroke="#141414" stroke-width="1.4" />
<path d="M415.4 528.8L417.344 532.4079999999999L413.45599999999996 532.4079999999999Z" fill="#141414"/>
<path d="M414 541C413 544.6 414.6 547 417 547.6" fill="none" stroke="#141414" stroke-width="1.4" />
<path d="M432 556.6L432 564.9" fill="none" stroke="#141414" stroke-width="1.0" />
<path d="M432 564.9C433.2 566.31 435.0 567.5319999999999 435.0 568.472C435.0 570.352 432.9 572.8900000000001 432 574.3000000000001C431.1 572.8900000000001 429.0 570.352 429.0 568.472C429.0 567.5319999999999 430.8 566.31 432 564.9Z" fill="#fff" stroke="#141414" stroke-width="1.4" />
<path d="M432 564.1L434.16 567.438L429.84 567.438Z" fill="#141414"/>
<path d="M438.2 553L439 563" fill="none" stroke="#141414" stroke-width="1.0" />
<path d="M439.8 562.9L441.6 565.9L440.34000000000003 567.9L439.08 566.4L438.0 565.9Z" fill="#141414"/>
<path d="M437.4 568C436 571.4 437.6 575 440.6 575.6" fill="none" stroke="#141414" stroke-width="1.4" />
<path d="M422 567.5L423.7 570.5L422.51 572.5L421.32 571.0L420.3 570.5Z" fill="#141414"/>
<path d="M420.6 573C419.4 576.4 421 580 424 581" fill="none" stroke="#141414" stroke-width="1.4" />
<path d="M403 540.6L406.6 543L407.4 550L405.4 558.6L402.6 551Z" fill="#141414"/>
<path d="M402 529.0L403.8 533.8L402.54 537.0L401.28 534.6L400.2 533.8Z" fill="#141414"/>
<path d="M404 558C403 561 404 563 406 564" fill="none" stroke="#141414" stroke-width="1.2" />
<path d="M408 579L408 589.2" fill="none" stroke="#141414" stroke-width="1.0" />
<path d="M408 589.2C409.2 590.7 411.0 592.0 411.0 593.0C411.0 595.0 408.9 597.7 408 599.2C407.1 597.7 405.0 595.0 405.0 593.0C405.0 592.0 406.8 590.7 408 589.2Z" fill="#fff" stroke="#141414" stroke-width="1.4" />
<path d="M408 588.4000000000001L410.16 591.9000000000001L405.84 591.9000000000001Z" fill="#141414"/>
<path d="M419 588L419.6 596.6" fill="none" stroke="#141414" stroke-width="1.0" />
<path d="M419.6 596.6C421.20000000000005 598.64 423.6 600.408 423.6 601.768C423.6 604.488 420.8 608.16 419.6 610.1999999999999C418.40000000000003 608.16 415.6 604.488 415.6 601.768C415.6 600.408 418.0 598.64 419.6 596.6Z" fill="#fff" stroke="#141414" stroke-width="1.4" />
<path d="M419.6 595.8000000000001L422.48 600.272L416.72 600.272Z" fill="#141414"/>
<path d="M434 591L435.6 598.6" fill="none" stroke="#141414" stroke-width="1.0" />
<path d="M435.6 598.6C437.12 600.34 439.40000000000003 601.848 439.40000000000003 603.0079999999999C439.40000000000003 605.328 436.74 608.4599999999999 435.6 610.1999999999999C434.46000000000004 608.4599999999999 431.8 605.328 431.8 603.0079999999999C431.8 601.848 434.08000000000004 600.34 435.6 598.6Z" fill="#fff" stroke="#141414" stroke-width="1.4" />
<path d="M450.2 592.4000000000001C451.64 594.1400000000001 453.8 595.648 453.8 596.808C453.8 599.128 451.28 602.26 450.2 604.0C449.12 602.26 446.59999999999997 599.128 446.59999999999997 596.808C446.59999999999997 595.648 448.76 594.1400000000001 450.2 592.4000000000001Z" fill="#fff" stroke="#141414" stroke-width="1.4" />
<path d="M449 586.6L449.4 590.4" fill="none" stroke="#141414" stroke-width="1.1" />
<path d="M454 567.1999999999999C455.2 568.7599999999999 457.0 570.112 457.0 571.1519999999999C457.0 573.232 454.9 576.0400000000001 454 577.6C453.1 576.0400000000001 451.0 573.232 451.0 571.1519999999999C451.0 570.112 452.8 568.7599999999999 454 567.1999999999999Z" fill="#fff" stroke="#141414" stroke-width="1.4" />
<path d="M454 566.4L456.16 570.0079999999999L451.84 570.0079999999999Z" fill="#141414"/>
<path d="M454.4 580.4L453.4 583.6" fill="none" stroke="#141414" stroke-width="1.3" />
<path d="M453.6 587.6L453.6 590.6" fill="none" stroke="#141414" stroke-width="1.3" />
<circle cx="414" cy="611" r="1.0" fill="#141414" stroke="#141414" stroke-width="0.3"/>
<path d="M423.4 612.4L428.6 611.6" fill="none" stroke="#141414" stroke-width="1.4" />
<circle cx="445" cy="601.6" r="1.0" fill="#141414" stroke="#141414" stroke-width="0.3"/>
<circle cx="415.6" cy="610" r="0.7" fill="#141414" stroke="#141414" stroke-width="0.3"/>
<path d="M388.4 560.5L389.6 569.9" fill="none" stroke="#141414" stroke-width="1.0" />
<path d="M389.6 569.9C390.92 571.31 392.90000000000003 572.5319999999999 392.90000000000003 573.472C392.90000000000003 575.352 390.59000000000003 577.8900000000001 389.6 579.3000000000001C388.61 577.8900000000001 386.3 575.352 386.3 573.472C386.3 572.5319999999999 388.28000000000003 571.31 389.6 569.9Z" fill="#fff" stroke="#141414" stroke-width="1.4" />
<path d="M398 566.5L398.8 578.9" fill="none" stroke="#141414" stroke-width="1.0" />
<path d="M398.8 578.9C400.08 580.31 402.0 581.5319999999999 402.0 582.472C402.0 584.352 399.76 586.8900000000001 398.8 588.3000000000001C397.84000000000003 586.8900000000001 395.6 584.352 395.6 582.472C395.6 581.5319999999999 397.52000000000004 580.31 398.8 578.9Z" fill="#fff" stroke="#141414" stroke-width="1.4" />
<circle cx="386" cy="589" r="1.0" fill="#141414" stroke="#141414" stroke-width="0.3"/>
<circle cx="386" cy="592.2" r="1.0" fill="#141414" stroke="#141414" stroke-width="0.3"/>
<path d="M390.6 592.6L393 594.4" fill="none" stroke="#141414" stroke-width="1.3" />
<path d="M393.6 597.6L396 599" fill="none" stroke="#141414" stroke-width="1.3" />
<path d="M397 597L405 597.6" fill="none" stroke="#141414" stroke-width="1.1" />
<path d="M399.90000000000003 602.2L401.6 605.8L403.3 602.2" fill="none" stroke="#141414" stroke-width="1.3" />
<path d="M359 495L356.6 499.6" fill="none" stroke="#141414" stroke-width="2.3" />
<path d="M355.4 501.6L352.6 506" fill="none" stroke="#141414" stroke-width="2.3" />
<path d="M351 508.6L348.6 510.6" fill="none" stroke="#141414" stroke-width="2.1" />
<path d="M360.4 503L358.6 507.6" fill="none" stroke="#141414" stroke-width="2.1" />
<path d="M357.4 511L355.6 516" fill="none" stroke="#141414" stroke-width="2.1" />
<path d="M355 519.6L353.6 524" fill="none" stroke="#141414" stroke-width="1.9" />
<path d="M349 514L347.6 517" fill="none" stroke="#141414" stroke-width="1.8" />
<path d="M347 520.6L345 523.6" fill="none" stroke="#141414" stroke-width="1.8" />
<path d="M374.6 495L377.6 499" fill="none" stroke="#141414" stroke-width="2.3" />
<path d="M379 501L382.6 505" fill="none" stroke="#141414" stroke-width="2.3" />
<path d="M384 507L387.6 511" fill="none" stroke="#141414" stroke-width="2.1" />
<path d="M373 503L375 508" fill="none" stroke="#141414" stroke-width="2.0" />
<path d="M376.6 511L379 516" fill="none" stroke="#141414" stroke-width="2.0" />
<path d="M380.4 518.6L383.6 523" fill="none" stroke="#141414" stroke-width="2.0" />
<path d="M384.6 524.6L386.6 528" fill="none" stroke="#141414" stroke-width="2.0" />
<path d="M388.6 512.6L391 517" fill="none" stroke="#141414" stroke-width="1.8" />
<path d="M375 520L376 524" fill="none" stroke="#141414" stroke-width="1.8" />
<circle cx="375" cy="508" r="0.9" fill="#141414" stroke="#141414" stroke-width="0.3"/>
<circle cx="385" cy="510" r="0.9" fill="#141414" stroke="#141414" stroke-width="0.3"/>
<circle cx="338.6" cy="507.6" r="0.7" fill="#141414" stroke="#141414" stroke-width="0.3"/>
<path d="M388.8 526.8000000000001C389.92 527.94 391.6 528.928 391.6 529.688C391.6 531.208 389.64 533.26 388.8 534.4C387.96000000000004 533.26 386.0 531.208 386.0 529.688C386.0 528.928 387.68 527.94 388.8 526.8000000000001Z" fill="#fff" stroke="#141414" stroke-width="1.3" />
<path d="M354.6 525.0L356.1 527.4L355.05 529.0L354.0 527.8L353.1 527.4Z" fill="#141414"/>
<path d="M360.6 496.0L362.1 498.4L361.05 500.0L360.0 498.8L359.1 498.4Z" fill="#141414"/>
<path d="M374.8 495L376.6 500.4L378.6 497" fill="none" stroke="#141414" stroke-width="1.4" />
<path d="M380 496C384 499 389 502.6 393 505.6" fill="none" stroke="#141414" stroke-width="1.0" />
<path d="M353.6 519.6L354.8 522" fill="none" stroke="#141414" stroke-width="1.6" />
<path d="M355.6 526.6L360.4 523" fill="none" stroke="#141414" stroke-width="1.4" />
<path d="M360.8 519L362.2 522" fill="none" stroke="#141414" stroke-width="2.0" />
<path d="M378 514L382 520" fill="none" stroke="#141414" stroke-width="1.6" />
<path d="M382 520L384 522.6" fill="none" stroke="#141414" stroke-width="2.0" />
<path d="M384 522.6L388.6 525" fill="none" stroke="#141414" stroke-width="2.0" />
<path d="M349.6 487.6L353.4 487.6" fill="none" stroke="#141414" stroke-width="1.0" /></g>
</svg>
<div class="t h" style="left:96.6px;transform:scaleX(0.952)">Способы</div>
<div class="t h" style="left:216.4px;transform:scaleX(0.949)">крепления</div>
<div class="t h" style="left:354.6px;transform:scaleX(0.943)">подъемника</div>
<div class="t h" style="left:518.9px;transform:scaleX(1.33)">и</div>
<div class="t h" style="left:551.5px;transform:scaleX(0.915)">светильника</div>
<div class="t s" style="left:98.3px;transform:scaleX(0.98)">Вариант</div>
<div class="t s" style="left:179.9px;transform:scaleX(0.925)">монтажа</div>
<div class="t s" style="left:257.5px;transform:scaleX(1.17)">№2</div>
<div class="t" id="lab">Подъемник</div>
</body>
</html>
